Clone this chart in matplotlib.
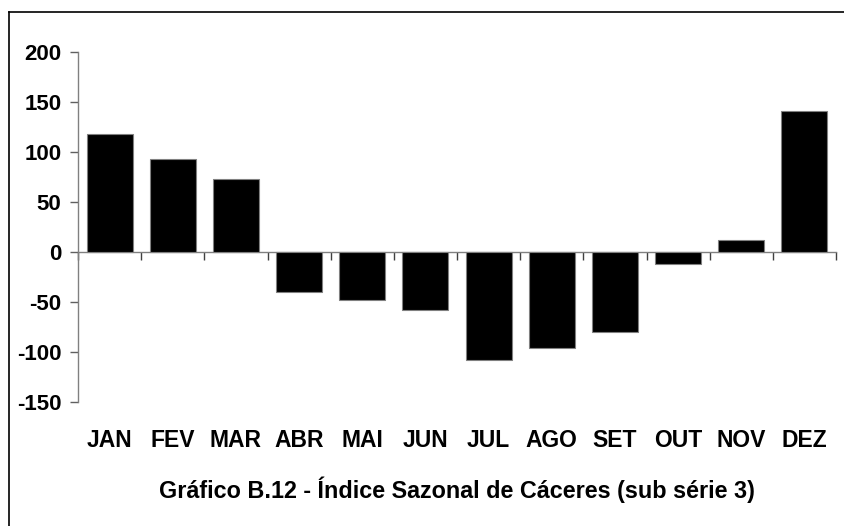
import matplotlib

matplotlib.use("Agg")

import matplotlib.pyplot as plt
from matplotlib.lines import Line2D
import numpy as np

months = ["JAN", "FEV", "MAR", "ABR", "MAI", "JUN", "JUL", "AGO", "SET", "OUT", "NOV", "DEZ"]
seasonal_index = [118, 93.5, 73, -40, -48, -58.5, -108, -96, -80, -12, 12, 141]
y_ticks = [-150, -100, -50, 0, 50, 100, 150, 200]
title = "Gráfico B.12 - Índice Sazonal de Cáceres (sub série 3)"

plt.rcParams["font.family"] = ["Liberation Sans", "DejaVu Sans"]
plt.rcParams["font.weight"] = "bold"

figure = plt.figure(figsize=(8.44, 5.26), dpi=100)
axis = figure.add_axes([78 / 844, 1 - 401.5 / 526, (836 - 78) / 844, (401.5 - 52.3) / 526])

x = np.arange(len(months))
axis.bar(x, seasonal_index, width=0.73, color="black", edgecolor="#808080", linewidth=0.8, zorder=3)

axis.set_xlim(-0.5, len(months) - 0.5)
axis.set_ylim(-150, 200)
axis.set_yticks(y_ticks)
axis.set_yticklabels([str(v) for v in y_ticks], fontsize=16, fontweight="bold")
axis.tick_params(axis="y", direction="out", length=6, width=1, color="#606060", pad=6)

axis.set_xticks(x)
axis.set_xticklabels(months, fontsize=16.5, fontweight="bold")
axis.tick_params(axis="x", length=0, pad=20)

for side in ["top", "right", "bottom"]:
    axis.spines[side].set_visible(False)
axis.spines["left"].set_color("#808080")
axis.spines["left"].set_linewidth(1)

# zero line with category boundary ticks
zero_axis = axis.secondary_xaxis(0, transform=axis.transData)
zero_axis.set_xticks(np.arange(-0.5, len(months), 1.0))
zero_axis.set_xticklabels([])
zero_axis.tick_params(direction="out", length=6, width=1, color="#404040")
zero_axis.spines["bottom"].set_color("#808080")
zero_axis.spines["bottom"].set_linewidth(1)

figure.text(457 / 844, 1 - 490 / 526, title, ha="center", va="center", fontsize=16.8, fontweight="bold")

# outer frame (only top and left edges fall inside the image)
figure.add_artist(Line2D([9 / 844, 9 / 844], [0, 1 - 12 / 526], color="black", linewidth=1.2, transform=figure.transFigure))
figure.add_artist(Line2D([9 / 844, 1], [1 - 12 / 526, 1 - 12 / 526], color="black", linewidth=1.2, transform=figure.transFigure))

figure.savefig("out.png", dpi=100)
plt.close(figure)
